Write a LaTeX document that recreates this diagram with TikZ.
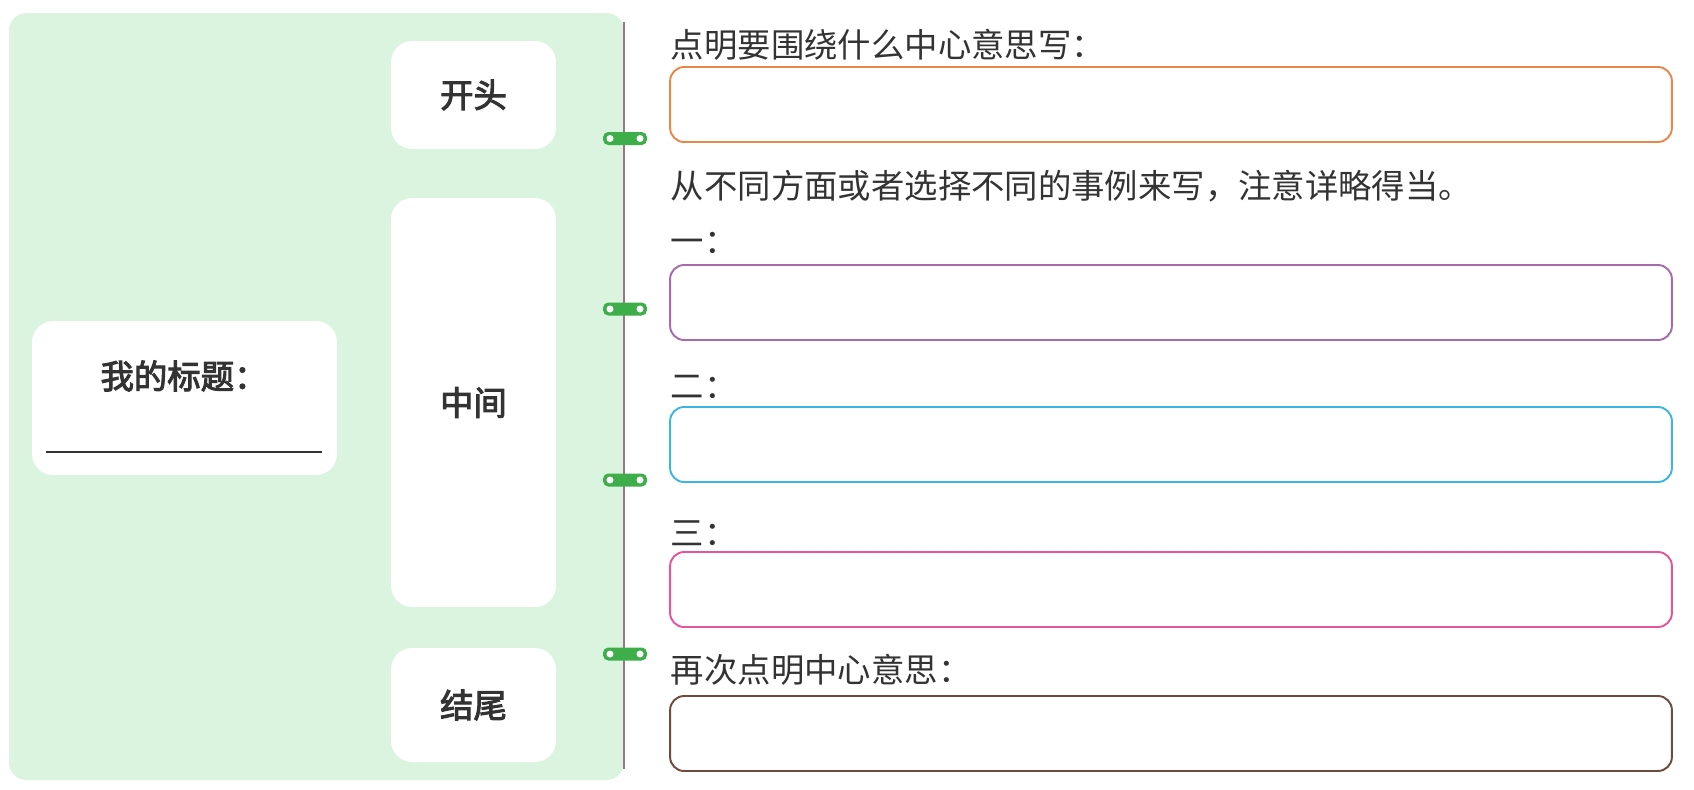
\documentclass[tikz,border=0pt]{standalone}
\usepackage{fontspec}
\newfontfamily\cjk{Noto Sans CJK SC}
\newfontfamily\cjkmid[FakeBold=3]{Noto Sans CJK SC}
\usetikzlibrary{positioning}
\definecolor{cpanel}{HTML}{DAF4DF}
\definecolor{cclip}{HTML}{3DAE4A}
\definecolor{cspine}{HTML}{9A7684}
\definecolor{ctext}{HTML}{333333}
\definecolor{corange}{HTML}{E8874A}
\definecolor{cpurple}{HTML}{A76AAC}
\definecolor{ccyan}{HTML}{3DB5E3}
\definecolor{cpink}{HTML}{E65599}
\definecolor{cbrown}{HTML}{6E4B3C}
\tikzset{
  every picture/.style={line width=1.1pt},
  card/.style={fill=white, rounded corners=12pt, inner sep=0pt, minimum width=3.3cm,
    font=\cjkmid\fontsize{19}{19}\selectfont, text=ctext},
  answer/.style={draw=#1, rounded corners=8pt, inner sep=0pt, minimum width=20.04cm, minimum height=1.5cm},
  prompt/.style={font=\cjk\fontsize{19}{19}\selectfont, anchor=west, inner sep=0pt, text=ctext},
}
\begin{document}
\begin{tikzpicture}[x=0.02cm, y=-0.02cm]
  \useasboundingbox (0,0) rectangle (1694,789);
  % ---------- green panel
  \fill[cpanel, rounded corners=10pt] (9,13) rectangle (624,780);
  \node[card, minimum height=2.16cm] (start) at (473.5,95) {开头};
  \node[card, minimum height=8.18cm] (middle) at (473.5,402.5) {中间};
  \node[card, minimum height=2.28cm] (finish) at (473.5,705) {结尾};
  \node[card, minimum width=6.1cm, minimum height=3.08cm] (title) at (184.5,398) {};
  \node[card, fill=none] (titletext) at (184,376) {我的标题：};
  \draw[ctext, line width=0.9pt] (46,452) -- (322,452);
  % ---------- spine and clips
  \draw[cspine, line width=0.7pt] (624,22) -- (624,769);
  \foreach \y in {138.5, 309, 480, 654} {
    \fill[cclip, rounded corners=3pt] (603,\y-6.5) rectangle (647,\y+6.5);
    \fill[white] (610,\y) circle (3.5) (640,\y) circle (3.5);
  }
  % ---------- right column
  \node[prompt] (p1) at (670,45) {点明要围绕什么中心意思写：};
  \node[answer=corange] (a1) at (1171,104.5) {};
  \node[prompt] (p2) at (670,186) {从不同方面或者选择不同的事例来写，注意详略得当。};
  \node[prompt] (p3) at (670,243) {一：};
  \node[answer=cpurple] (a2) at (1171,302.5) {};
  \node[prompt] (p4) at (670,387) {二：};
  \node[answer=ccyan] (a3) at (1171,444.5) {};
  \node[prompt] (p5) at (670,533) {三：};
  \node[answer=cpink] (a4) at (1171,589.5) {};
  \node[prompt] (p6) at (670,670) {再次点明中心意思：};
  \node[answer=cbrown] (a5) at (1171,733.5) {};
\end{tikzpicture}
\end{document}
